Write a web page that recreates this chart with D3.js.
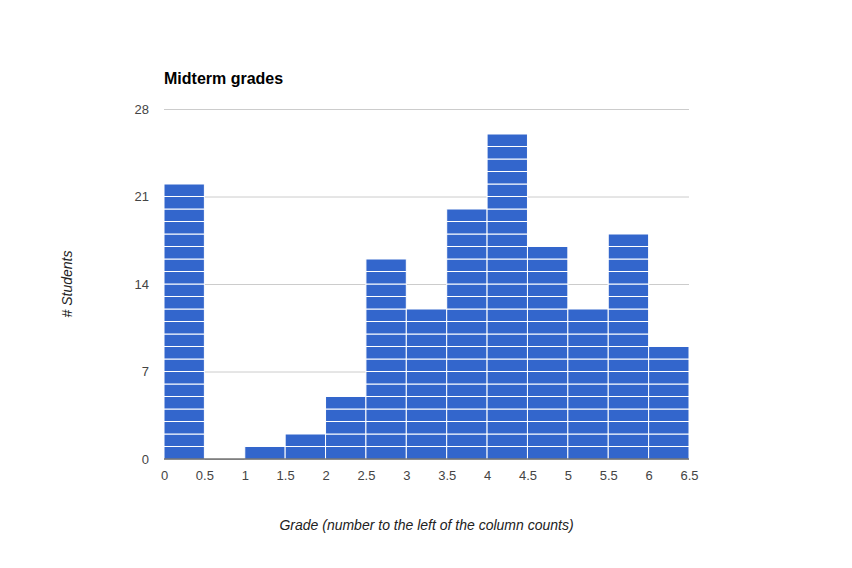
<!DOCTYPE html>
<html>
<head>
<meta charset="utf-8">
<script src="https://cdn.jsdelivr.net/npm/d3@7"></script>
<style>
  body { margin: 0; background: #fff; }
  svg { font-family: Arial, 'Liberation Sans', sans-serif; }
</style>
</head>
<body>
<div id="chart"></div>
<script>
// Histogram of midterm grades: bin start (width 0.5) and student count
const BIN_STARTS = [0, 0.5, 1, 1.5, 2, 2.5, 3, 3.5, 4, 4.5, 5, 5.5, 6]
const COUNTS = [22, 0, 1, 2, 5, 16, 12, 20, 26, 17, 12, 18, 9]
const BIN_WIDTH = 0.5
const X_TICKS = [0, 0.5, 1, 1.5, 2, 2.5, 3, 3.5, 4, 4.5, 5, 5.5, 6, 6.5]
const Y_TICKS = [0, 7, 14, 21, 28]

const totalW = 852, totalH = 568
const margin = { top: 109, right: 163, bottom: 109, left: 164 }
const W = totalW - margin.left - margin.right
const H = totalH - margin.top - margin.bottom

const svg = d3.select('#chart').append('svg')
  .attr('width', totalW).attr('height', totalH)

const g = svg.append('g').attr('transform', `translate(${margin.left},${margin.top})`)

const x = d3.scaleLinear().domain([0, 6.5]).range([0, W])
const y = d3.scaleLinear().domain([0, 28]).range([H, 0])

// Grid lines
g.append('g')
  .call(d3.axisLeft(y).tickValues(Y_TICKS).tickSize(-W).tickFormat(''))
  .call(a => a.select('.domain').remove())
  .call(a => a.selectAll('line').attr('stroke', '#cccccc'))

// Y tick labels
g.append('g')
  .call(d3.axisLeft(y).tickValues(Y_TICKS).tickSize(0).tickPadding(15))
  .call(a => a.select('.domain').remove())
  .call(a => a.selectAll('text').attr('fill', '#444').attr('font-size', 13))

// Bars, one segment per student
const bins = BIN_STARTS.map((s, i) => ({ start: s, count: COUNTS[i] }))
const binG = g.selectAll('.bin').data(bins).enter().append('g').attr('class', 'bin')
binG.selectAll('rect')
  .data(d => d3.range(d.count).map(k => ({ start: d.start, k })))
  .enter().append('rect')
  .attr('x', d => x(d.start))
  .attr('width', d => x(d.start + BIN_WIDTH) - x(d.start))
  .attr('y', d => y(d.k + 1))
  .attr('height', d => y(d.k) - y(d.k + 1))
  .attr('fill', '#3366cc')
  .attr('stroke', '#ffffff')
  .attr('stroke-width', 1)

// Baseline
g.append('line')
  .attr('x1', 0).attr('x2', W)
  .attr('y1', y(0)).attr('y2', y(0))
  .attr('stroke', '#333333').attr('stroke-width', 1)

// X tick labels
g.append('g')
  .attr('transform', `translate(0,${H})`)
  .call(d3.axisBottom(x).tickValues(X_TICKS).tickSize(0).tickPadding(12).tickFormat(d => d))
  .call(a => a.select('.domain').remove())
  .call(a => a.selectAll('text').attr('fill', '#444').attr('font-size', 13))

// Title
svg.append('text')
  .attr('x', margin.left).attr('y', 84)
  .attr('font-size', 16).attr('font-weight', 'bold').attr('fill', '#000')
  .text('Midterm grades')

// Axis titles
svg.append('text')
  .attr('x', margin.left + W / 2).attr('y', 530)
  .attr('text-anchor', 'middle')
  .attr('font-size', 14).attr('font-style', 'italic').attr('fill', '#222')
  .text('Grade (number to the left of the column counts)')

svg.append('text')
  .attr('transform', `translate(72,${margin.top + H / 2}) rotate(-90)`)
  .attr('text-anchor', 'middle')
  .attr('font-size', 14).attr('font-style', 'italic').attr('fill', '#222')
  .text('# Students')
</script>
</body>
</html>
